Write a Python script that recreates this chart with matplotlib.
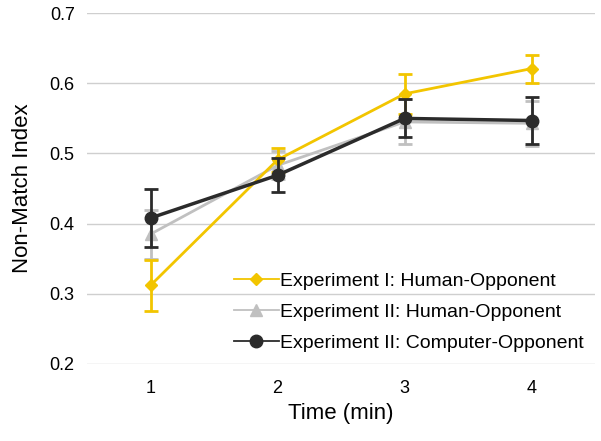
import matplotlib.pyplot as plt
import numpy as np

# minutes
time_min = [1, 2, 3, 4]

exp1_human = [0.312, 0.491, 0.585, 0.621]
exp1_human_err = [0.036, 0.017, 0.029, 0.020]

exp2_human = [0.385, 0.483, 0.545, 0.543]
exp2_human_err = [0.035, 0.020, 0.032, 0.032]

exp2_computer = [0.408, 0.469, 0.550, 0.547]
exp2_computer_err = [0.041, 0.024, 0.027, 0.033]

labels = ["Experiment I: Human-Opponent",
          "Experiment II: Human-Opponent",
          "Experiment II: Computer-Opponent"]

plt.rcParams['font.family'] = ['Liberation Sans', 'DejaVu Sans']

fig, ax = plt.subplots(figsize=(6.01, 4.41), dpi=100)
fig.subplots_adjust(left=0.145, right=0.99, top=0.97, bottom=0.175)

ax.errorbar(time_min, exp1_human, yerr=exp1_human_err, color='#F2C500',
            marker='D', markersize=6, linewidth=2, capsize=5, capthick=2,
            elinewidth=2, label=labels[0], zorder=3)
ax.errorbar(time_min, exp2_human, yerr=exp2_human_err, color='#C0C0C0',
            marker='^', markersize=8, linewidth=2, capsize=5, capthick=2,
            elinewidth=2, label=labels[1], zorder=2)
ax.errorbar(time_min, exp2_computer, yerr=exp2_computer_err, color='#2B2B2B',
            marker='o', markersize=9, linewidth=2.5, capsize=5, capthick=2,
            elinewidth=2, label=labels[2], zorder=4)

ax.set_xlim(0.5, 4.5)
ax.set_ylim(0.2, 0.7)
ax.set_xticks(time_min)
ax.set_yticks(np.arange(0.2, 0.71, 0.1))
ax.set_yticklabels(["0.2", "0.3", "0.4", "0.5", "0.6", "0.7"])
ax.grid(axis='y', color='#CFCFCF', linewidth=1)
ax.set_axisbelow(True)
for s in ax.spines.values():
    s.set_visible(False)
ax.tick_params(length=0, labelsize=13)
ax.tick_params(axis='y', pad=9)
ax.tick_params(axis='x', pad=12)

ax.set_xlabel("Time (min)", fontsize=16, labelpad=4)
ax.set_ylabel("Non-Match Index", fontsize=16, labelpad=12)

handles, lbls = ax.get_legend_handles_labels()
handles = [h[0] for h in handles]
leg = ax.legend(handles, lbls, loc='lower right', bbox_to_anchor=(1.0, 0.0),
                frameon=False, fontsize=14, handlelength=2.3,
                handletextpad=0.05, labelspacing=0.7, borderaxespad=0.2)
for line in leg.get_lines():
    line.set_linewidth(1.3)

fig.savefig("out.png", dpi=100)
